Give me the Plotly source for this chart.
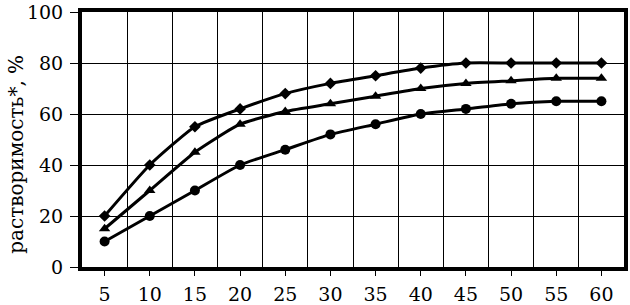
import plotly.graph_objects as go

time_min = [5, 10, 15, 20, 25, 30, 35, 40, 45, 50, 55, 60]
series_diamond = [20, 40, 55, 62, 68, 72, 75, 78, 80, 80, 80, 80]
series_triangle = [15, 30, 45, 56, 61, 64, 67, 70, 72, 73, 74, 74]
series_circle = [10, 20, 30, 40, 46, 52, 56, 60, 62, 64, 65, 65]
y_ticks = [0, 20, 40, 60, 80, 100]
y_title = "растворимость*, %"

fig = go.Figure()
for vals, sym, size in [(series_diamond, "diamond", 9),
                        (series_triangle, "triangle-up", 10),
                        (series_circle, "circle", 10)]:
    fig.add_trace(go.Scatter(
        x=time_min, y=vals, mode="lines+markers",
        line=dict(color="black", width=3, shape="spline", smoothing=0.5),
        marker=dict(symbol=sym, size=size, color="black"),
        showlegend=False, cliponaxis=False))

font = dict(family="DejaVu Serif", size=19, color="black")
title_font = dict(family="DejaVu Serif", size=20, color="black")
fig.update_layout(
    width=630, height=305,
    margin=dict(l=82, r=6, t=12, b=38),
    paper_bgcolor="white", plot_bgcolor="white",
    font=font,
    xaxis=dict(range=[2.5, 62.5], tickvals=time_min, ticktext=[str(v) for v in time_min],
               showgrid=False, zeroline=False, automargin=False,
               ticks="outside", ticklen=5, tickwidth=1, tickcolor="black",
               showline=True, linecolor="black", linewidth=4, mirror=True,
               ticklabeloverflow="allow", ticklabelstandoff=2,
               minor=dict(tick0=7.5, dtick=5, showgrid=True, gridcolor="black",
                          gridwidth=1, ticklen=0),
               tickfont=font),
    yaxis=dict(range=[0, 100], tickvals=y_ticks, showgrid=True, gridcolor="black",
               gridwidth=1, zeroline=False, automargin=False,
               ticks="outside", ticklen=8, tickwidth=1, tickcolor="black",
               showline=True, linecolor="black", linewidth=4, mirror=True,
               ticklabeloverflow="allow", ticklabelstandoff=3,
               tickfont=font),
    annotations=[dict(text=y_title, xref="paper", yref="paper", x=0, y=0.44,
                      xanchor="center", yanchor="middle", xshift=-66, textangle=-90,
                      showarrow=False, font=title_font)],
)
fig.write_html("out.html", config={"displayModeBar": False},
               post_script="document.body.style.margin='0';document.body.style.padding='0';")
